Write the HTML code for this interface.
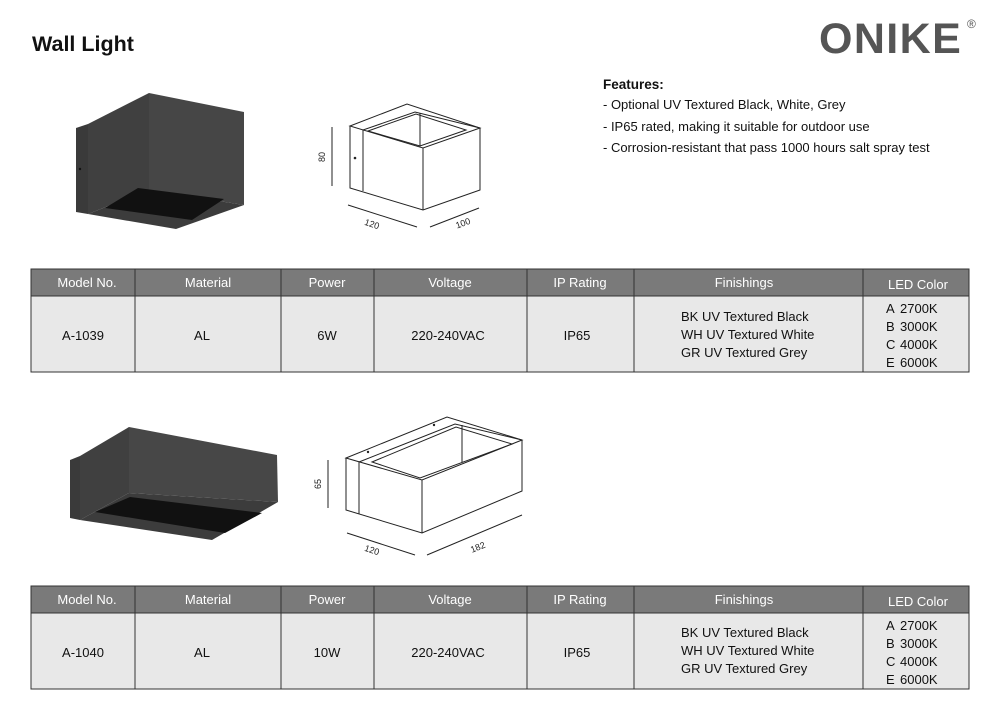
<!DOCTYPE html>
<html><head><meta charset="utf-8"><style>
html,body{margin:0;padding:0;background:#fff;}
svg{display:block;font-family:"Liberation Sans",Arial,sans-serif;}
</style></head><body>
<svg width="988" height="702" viewBox="0 0 988 702" xmlns="http://www.w3.org/2000/svg">
<rect width="988" height="702" fill="#fff"/>
<text x="32" y="51" font-size="21.5" font-weight="bold" fill="#111">Wall Light</text>
<text x="819" y="53" font-size="43" font-weight="bold" fill="#555" letter-spacing="1.4">ONIKE</text>
<text x="967" y="28" font-size="12" fill="#555">®</text>

<text x="603" y="89" font-size="13.5" font-weight="bold" fill="#111">Features:</text>
<text x="603" y="109" font-size="13" fill="#111">- Optional UV Textured Black, White, Grey</text>
<text x="603" y="131" font-size="13" fill="#111">- IP65 rated, making it suitable for outdoor use</text>
<text x="603" y="152" font-size="13" fill="#111">- Corrosion-resistant that pass 1000 hours salt spray test</text>

<!-- Lamp 1 photo -->
<polygon points="76,128 88,124 88,214 76,212" fill="#3a3a3a"/>
<polygon points="88,124 149,93 149,190 88,214" fill="#404040"/>
<polygon points="149,93 244,112 244,205 149,190" fill="#464646"/>
<polygon points="88,214 149,190 244,205 176,229" fill="#3c3c3c"/>
<polygon points="105,208 138,188 224,199 192,220" fill="#111"/>
<circle cx="80" cy="169" r="1.2" fill="#111"/>

<!-- Drawing 1 -->
<g fill="none" stroke="#222" stroke-width="1">
<polygon points="350,126 407,104 480,128 423,148"/>
<polyline points="350,126 350,188 423,210 480,190 480,128"/>
<line x1="423" y1="148" x2="423" y2="210"/>
<line x1="363" y1="130" x2="363" y2="191"/>
<polyline points="363,130 415,112 480,128"/>
<polygon points="368,131 416,114 466,130 420,146"/>
<line x1="420" y1="113" x2="420" y2="146"/>
<line x1="332" y1="127" x2="332" y2="186"/>
<line x1="348" y1="205" x2="417" y2="227"/>
<line x1="430" y1="227" x2="479" y2="208"/>
</g>
<circle cx="355" cy="158" r="1.3" fill="#222"/>
<text transform="translate(325,157) rotate(-90)" font-size="9" text-anchor="middle" fill="#222">80</text>
<text transform="translate(371,227) rotate(18)" font-size="9" text-anchor="middle" fill="#222">120</text>
<text transform="translate(464,226) rotate(-20)" font-size="9" text-anchor="middle" fill="#222">100</text>

<!-- Table 1 -->
<g>
<rect x="31" y="269" width="938" height="27" fill="#7a7a7a"/>
<rect x="31" y="296" width="938" height="76" fill="#e8e8e8"/>
<rect x="31" y="269" width="938" height="103" fill="none" stroke="#333" stroke-width="1"/>
<line x1="31" y1="296" x2="969" y2="296" stroke="#333"/>
<g stroke="#333"><line x1="135" y1="269" x2="135" y2="372"/><line x1="281" y1="269" x2="281" y2="372"/><line x1="374" y1="269" x2="374" y2="372"/><line x1="527" y1="269" x2="527" y2="372"/><line x1="634" y1="269" x2="634" y2="372"/><line x1="863" y1="269" x2="863" y2="372"/></g>
<g fill="#fff" font-size="13" text-anchor="middle">
<text x="87" y="287">Model No.</text><text x="208" y="287">Material</text><text x="327" y="287">Power</text><text x="450" y="287">Voltage</text><text x="580" y="287">IP Rating</text><text x="744" y="287">Finishings</text><text x="918" y="289">LED Color</text>
</g>
<g fill="#111" font-size="13">
<text x="83" y="340" text-anchor="middle">A-1039</text><text x="202" y="340" text-anchor="middle">AL</text><text x="327" y="340" text-anchor="middle">6W</text><text x="448" y="340" text-anchor="middle">220-240VAC</text><text x="577" y="340" text-anchor="middle">IP65</text>
<text x="681" y="321">BK UV Textured Black</text><text x="681" y="339">WH UV Textured White</text><text x="681" y="357">GR UV Textured Grey</text>
<text x="886" y="313">A</text><text x="900" y="313">2700K</text>
<text x="886" y="331">B</text><text x="900" y="331">3000K</text>
<text x="886" y="349">C</text><text x="900" y="349">4000K</text>
<text x="886" y="367">E</text><text x="900" y="367">6000K</text>
</g>
</g>

<!-- Lamp 2 photo -->
<polygon points="70,460 80,456 80,520 70,518" fill="#3a3a3a"/>
<polygon points="80,456 129,427 129,493 80,520" fill="#404040"/>
<polygon points="129,427 277,455 278,502 129,493" fill="#474747"/>
<polygon points="80,520 129,493 278,502 212,540" fill="#3c3c3c"/>
<polygon points="95,512 130,497 262,513 225,533" fill="#111"/>

<!-- Drawing 2 -->
<g fill="none" stroke="#222" stroke-width="1">
<polygon points="346,458 447,417 522,440 422,480"/>
<polyline points="346,458 346,510 422,533 522,491 522,440"/>
<line x1="422" y1="480" x2="422" y2="533"/>
<line x1="359" y1="462" x2="359" y2="514"/>
<polyline points="359,462 455,424 522,440"/>
<polygon points="372,462 456,427 512,444 420,478"/>
<line x1="462" y1="425" x2="462" y2="462"/>
<line x1="328" y1="460" x2="328" y2="508"/>
<line x1="347" y1="533" x2="415" y2="555"/>
<line x1="427" y1="555" x2="522" y2="515"/>
</g>
<circle cx="368" cy="452" r="1.2" fill="#222"/>
<circle cx="434" cy="425" r="1.2" fill="#222"/>
<text transform="translate(321,484) rotate(-90)" font-size="9" text-anchor="middle" fill="#222">65</text>
<text transform="translate(371,553) rotate(18)" font-size="9" text-anchor="middle" fill="#222">120</text>
<text transform="translate(479,550) rotate(-22)" font-size="9" text-anchor="middle" fill="#222">182</text>

<!-- Table 2 -->
<g>
<rect x="31" y="586" width="938" height="27" fill="#7a7a7a"/>
<rect x="31" y="613" width="938" height="76" fill="#e8e8e8"/>
<rect x="31" y="586" width="938" height="103" fill="none" stroke="#333" stroke-width="1"/>
<line x1="31" y1="613" x2="969" y2="613" stroke="#333"/>
<g stroke="#333"><line x1="135" y1="586" x2="135" y2="689"/><line x1="281" y1="586" x2="281" y2="689"/><line x1="374" y1="586" x2="374" y2="689"/><line x1="527" y1="586" x2="527" y2="689"/><line x1="634" y1="586" x2="634" y2="689"/><line x1="863" y1="586" x2="863" y2="689"/></g>
<g fill="#fff" font-size="13" text-anchor="middle">
<text x="87" y="604">Model No.</text><text x="208" y="604">Material</text><text x="327" y="604">Power</text><text x="450" y="604">Voltage</text><text x="580" y="604">IP Rating</text><text x="744" y="604">Finishings</text><text x="918" y="606">LED Color</text>
</g>
<g fill="#111" font-size="13">
<text x="83" y="657" text-anchor="middle">A-1040</text><text x="202" y="657" text-anchor="middle">AL</text><text x="327" y="657" text-anchor="middle">10W</text><text x="448" y="657" text-anchor="middle">220-240VAC</text><text x="577" y="657" text-anchor="middle">IP65</text>
<text x="681" y="637">BK UV Textured Black</text><text x="681" y="655">WH UV Textured White</text><text x="681" y="673">GR UV Textured Grey</text>
<text x="886" y="630">A</text><text x="900" y="630">2700K</text>
<text x="886" y="648">B</text><text x="900" y="648">3000K</text>
<text x="886" y="666">C</text><text x="900" y="666">4000K</text>
<text x="886" y="684">E</text><text x="900" y="684">6000K</text>
</g>
</g>
</svg>
</body></html>
